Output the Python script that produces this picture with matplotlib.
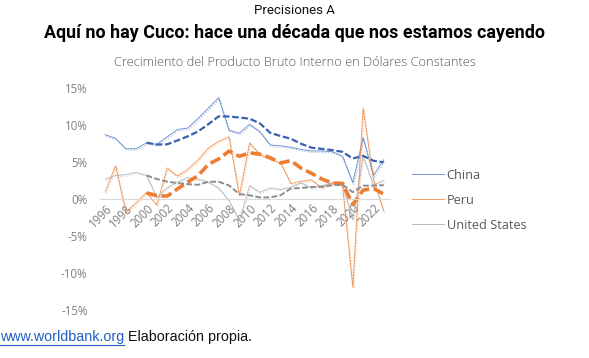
import matplotlib.pyplot as plt
import matplotlib.transforms as mtransforms
import numpy as np
import pandas as pd

# GDP growth (%)
years = list(range(1996, 2024))
china = [8.7, 8.2, 6.8, 6.8, 7.6, 7.4, 8.4, 9.4, 9.6, 10.9, 12.3, 13.7, 9.3, 8.9,
         10.1, 9.1, 7.3, 7.2, 7.0, 6.7, 6.5, 6.5, 6.4, 5.8, 2.2, 8.3, 3.2, 5.3]
peru = [1.0, 4.5, -1.8, -0.5, 0.9, -0.8, 4.2, 3.1, 4.0, 5.3, 6.9, 7.8, 8.4, 0.5,
        7.6, 6.0, 5.4, 4.9, 2.1, 2.4, 2.6, 1.5, 2.2, 1.9, -11.9, 12.3, 2.7, -1.6]
usa = [2.7, 3.2, 3.3, 3.6, 3.2, 0.2, 1.5, 2.3, 2.9, 2.7, 2.3, 1.5, -0.2, -2.9,
       1.8, 0.9, 1.5, 1.3, 1.6, 2.2, 1.5, 1.8, 2.2, 2.0, -2.8, 5.8, 1.9, 2.5]

series = ['China', 'Peru', 'United States']
colors = ['#4472C4', '#ED7D31', '#A5A5A5']
trend_colors = ['#3A62B0', '#ED7D31', '#8E8E8E']

df = pd.DataFrame({'China': china, 'Peru': peru, 'United States': usa}, index=years)
trend = df.rolling(5).mean()  # 5-period moving average trendlines

fig = plt.figure(figsize=(5.89, 3.58), dpi=100)
ax = fig.add_axes([0.17, 0.134, 0.492, 0.62])

shadow = mtransforms.offset_copy(ax.transData, fig=fig, x=1.0, y=-1.5, units='dots')
for name, c in zip(series, colors):
    ax.plot(df.index, df[name], color=c, lw=0.8, ls=':', alpha=0.5, transform=shadow)
    ax.plot(df.index, df[name], color=c, lw=0.7, alpha=0.75, label=name)

trend_lw = {'China': 1.6, 'Peru': 2.6, 'United States': 1.4}
for name, c in zip(series, trend_colors):
    ax.plot(trend.index, trend[name], color=c, lw=trend_lw[name], dashes=(3, 1.2))

ax.set_xlim(1995.5, 2023.6)
ax.set_ylim(-15, 15)
ax.set_yticks([-15, -10, -5, 0, 5, 10, 15])
ax.set_yticklabels(['-15%', '-10%', '-5%', '0%', '5%', '10%', '15%'])
ax.set_xticks(list(range(1996, 2023, 2)))
ax.spines['bottom'].set_position(('data', 0))
ax.spines['bottom'].set_color('#D9D9D9')
for s in ['top', 'right', 'left']:
    ax.spines[s].set_visible(False)
ax.tick_params(axis='y', length=0, labelsize=8.3, labelcolor='#7F7F7F', pad=9)
ax.tick_params(axis='x', length=0, labelsize=8.3, labelcolor='#7F7F7F', pad=2)
for lab in ax.get_xticklabels():
    lab.set_rotation(45)
    lab.set_ha('right')
    lab.set_va('top')
    lab.set_rotation_mode('anchor')
for lab in ax.get_xticklabels() + ax.get_yticklabels():
    lab.set_family('Open Sans')

leg = ax.legend(loc='center left', bbox_to_anchor=(1.035, 0.495), frameon=False,
                handlelength=2.5, handletextpad=0.25, labelspacing=0.95,
                prop={'family': 'Open Sans', 'size': 9.2})
for t in leg.get_texts():
    t.set_color('#595959')

fig.text(0.5, 0.972, 'Precisiones A', ha='center', va='center', fontsize=9.5,
         family='Roboto', color='#111111')
fig.text(0.5, 0.907, 'Aquí no hay Cuco: hace una década que nos estamos cayendo',
         ha='center', va='center', fontsize=12.9, fontweight='bold', family='Roboto')
fig.text(0.5, 0.825, 'Crecimiento del Producto Bruto Interno en Dólares Constantes',
         ha='center', va='center', fontsize=9.25, family='Open Sans',
         fontweight='light', color='#595959')

t1 = fig.text(0.0, 0.058, 'www.worldbank.org', ha='left', va='center', fontsize=10.3,
              family='Liberation Sans', color='#1F5FBF')
fig.canvas.draw()
bb = t1.get_window_extent()
fig.add_artist(plt.Line2D([bb.x0 / fig.bbox.width, bb.x1 / fig.bbox.width],
                          [(bb.y0 - 1) / fig.bbox.height] * 2, color='#1F5FBF', lw=0.8))
fig.text(bb.x1 / fig.bbox.width + 0.006, 0.058, 'Elaboración propia.', ha='left',
         va='center', fontsize=10.3, family='Liberation Sans', color='#111111')

fig.savefig('out.png', dpi=100)
